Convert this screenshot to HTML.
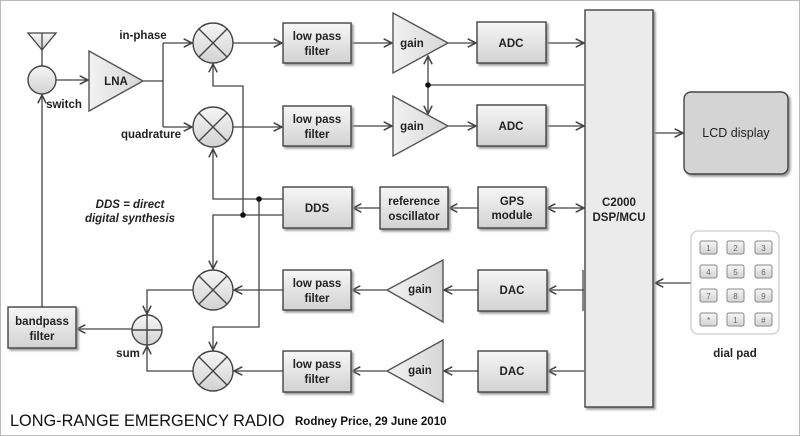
<!DOCTYPE html>
<html><head><meta charset="utf-8"><style>
html,body{margin:0;padding:0;background:#fff}
svg{display:block;font-family:"Liberation Sans",Arial,sans-serif}
</style></head><body>
<svg width="800" height="436" viewBox="0 0 800 436" xmlns="http://www.w3.org/2000/svg">
<defs>
<linearGradient id="g" x1="0" y1="0" x2="0" y2="1"><stop offset="0" stop-color="#f6f6f6"/><stop offset="1" stop-color="#d2d2d2"/></linearGradient>
<linearGradient id="gh" x1="0" y1="0" x2="1" y2="0"><stop offset="0" stop-color="#f2f2f2"/><stop offset="1" stop-color="#d6d6d6"/></linearGradient>
<marker id="a" viewBox="0 0 10 10" refX="9" refY="5" markerWidth="8" markerHeight="8" orient="auto-start-reverse"><path d="M1,1 L9,5 L1,9" fill="none" stroke="#444" stroke-width="1.5"/></marker>
</defs>
<rect x="0.5" y="0.5" width="799" height="435" fill="#fff" stroke="#bbb"/>
<g fill="none" stroke="#444" stroke-width="1.3">
<path d="M28,33 L56,33 L42,50 Z" fill="url(#g)"/>
<line x1="42" y1="33" x2="42" y2="66"/>
<line x1="56" y1="80" x2="88" y2="80" marker-end="url(#a)"/>
<line x1="42" y1="307" x2="42" y2="95" marker-end="url(#a)"/>
<polyline points="143,81 163,81"/>
<polyline points="163,43 163,127"/>
<line x1="163" y1="43" x2="192" y2="43" marker-end="url(#a)"/>
<line x1="163" y1="127" x2="192" y2="127" marker-end="url(#a)"/>
<line x1="233" y1="43" x2="282" y2="43" marker-end="url(#a)"/>
<line x1="233" y1="127" x2="282" y2="127" marker-end="url(#a)"/>
<line x1="351" y1="43" x2="392" y2="43" marker-end="url(#a)"/>
<line x1="351" y1="126" x2="392" y2="126" marker-end="url(#a)"/>
<line x1="448" y1="43" x2="476" y2="43" marker-end="url(#a)"/>
<line x1="448" y1="126" x2="476" y2="126" marker-end="url(#a)"/>
<line x1="546" y1="43" x2="584" y2="43" marker-end="url(#a)"/>
<line x1="546" y1="126" x2="584" y2="126" marker-end="url(#a)"/>
<line x1="584" y1="85" x2="428" y2="85"/>
<line x1="428" y1="85" x2="428" y2="56" marker-end="url(#a)"/>
<line x1="428" y1="85" x2="428" y2="114" marker-end="url(#a)"/>
<polyline points="283,199 213,199 213,149" marker-end="url(#a)"/>
<polyline points="283,215 213,215 213,269" marker-end="url(#a)"/>
<polyline points="243,215 243,86 213,86 213,64" marker-end="url(#a)"/>
<polyline points="259,199 259,327 213,327 213,350" marker-end="url(#a)"/>
<line x1="380" y1="208" x2="353" y2="208" marker-end="url(#a)"/>
<line x1="478" y1="208" x2="449" y2="208" marker-end="url(#a)"/>
<line x1="547" y1="208" x2="584" y2="208" marker-start="url(#a)" marker-end="url(#a)"/>
<line x1="653" y1="133" x2="683" y2="133" marker-end="url(#a)"/>
<line x1="691" y1="283" x2="655" y2="283" marker-end="url(#a)"/>
<line x1="584" y1="290" x2="548" y2="290" marker-end="url(#a)"/>
<line x1="583" y1="270" x2="583" y2="311"/>
<line x1="584" y1="371" x2="548" y2="371" marker-end="url(#a)"/>
<line x1="478" y1="290" x2="444" y2="290" marker-end="url(#a)"/>
<line x1="478" y1="371" x2="444" y2="371" marker-end="url(#a)"/>
<line x1="387" y1="290" x2="352" y2="290" marker-end="url(#a)"/>
<line x1="387" y1="371" x2="352" y2="371" marker-end="url(#a)"/>
<line x1="283" y1="290" x2="234" y2="290" marker-end="url(#a)"/>
<line x1="283" y1="371" x2="234" y2="371" marker-end="url(#a)"/>
<polyline points="193,290 147,290 147,314" marker-end="url(#a)"/>
<polyline points="193,371 147,371 147,346" marker-end="url(#a)"/>
<line x1="132" y1="329" x2="77" y2="329" marker-end="url(#a)"/>
</g>
<g fill="#111"><circle cx="428" cy="85" r="2.8"/><circle cx="259" cy="199" r="2.8"/><circle cx="243" cy="215" r="2.8"/></g>
<g stroke="#444" stroke-width="1.4" fill="url(#g)">
<circle cx="42" cy="80" r="14"/>
<circle cx="213" cy="43" r="20"/><circle cx="213" cy="127" r="20"/>
<circle cx="213" cy="290" r="20"/><circle cx="213" cy="371" r="20"/>
<circle cx="147" cy="330" r="15"/>
</g>
<g stroke="#444" stroke-width="1.4">
<path d="M199,29 L227,57 M227,29 L199,57"/><path d="M199,113 L227,141 M227,113 L199,141"/>
<path d="M199,276 L227,304 M227,276 L199,304"/><path d="M199,357 L227,385 M227,357 L199,385"/>
<path d="M132,330 L162,330 M147,315 L147,345"/>
</g>
<g stroke="#555" stroke-width="1.4" fill="url(#gh)">
<path d="M89,51 L143,81 L89,111 Z"/>
<path d="M393,13 L448,43 L393,73 Z"/>
<path d="M393,96 L448,126 L393,156 Z"/>
<path d="M443,260 L387,290 L443,322 Z"/>
<path d="M443,340 L387,371 L443,402 Z"/>
</g>
<g stroke="#444" stroke-width="1.4" fill="url(#g)" style="filter:drop-shadow(2px 2px 1px #999)">
<rect x="283" y="23" width="68" height="40"/>
<rect x="283" y="106" width="68" height="40"/>
<rect x="477" y="22" width="69" height="41"/>
<rect x="477" y="105" width="69" height="41"/>
<rect x="283" y="187" width="69" height="41"/>
<rect x="380" y="187" width="68" height="42"/>
<rect x="478" y="187" width="68" height="41"/>
<rect x="478" y="270" width="69" height="41"/>
<rect x="478" y="351" width="69" height="41"/>
<rect x="283" y="270" width="68" height="40"/>
<rect x="283" y="351" width="68" height="41"/>
<rect x="8" y="307" width="68" height="41"/>
<rect x="585" y="10" width="68" height="397" fill="#ebebeb"/>
<rect x="684" y="92" width="104" height="82" rx="7" fill="#d4d4d4"/>
</g>
<rect x="691" y="231" width="88" height="103" rx="7" fill="#fff" stroke="#ccc" stroke-width="1.3"/>
<g stroke="#888" stroke-width="1" fill="url(#g)">
<rect x="700" y="241" width="17" height="13" rx="2"/><rect x="727" y="241" width="17" height="13" rx="2"/><rect x="755" y="241" width="17" height="13" rx="2"/>
<rect x="700" y="265" width="17" height="13" rx="2"/><rect x="727" y="265" width="17" height="13" rx="2"/><rect x="755" y="265" width="17" height="13" rx="2"/>
<rect x="700" y="289" width="17" height="13" rx="2"/><rect x="727" y="289" width="17" height="13" rx="2"/><rect x="755" y="289" width="17" height="13" rx="2"/>
<rect x="700" y="313" width="17" height="13" rx="2"/><rect x="727" y="313" width="17" height="13" rx="2"/><rect x="755" y="313" width="17" height="13" rx="2"/>
</g>
<g font-size="8" fill="#666" text-anchor="middle">
<text x="708.5" y="251">1</text><text x="735.5" y="251">2</text><text x="763.5" y="251">3</text>
<text x="708.5" y="275">4</text><text x="735.5" y="275">5</text><text x="763.5" y="275">6</text>
<text x="708.5" y="299">7</text><text x="735.5" y="299">8</text><text x="763.5" y="299">9</text>
<text x="708.5" y="323">*</text><text x="735.5" y="323">1</text><text x="763.5" y="323">#</text>
</g>
<g font-size="11.5" font-weight="bold" fill="#222" text-anchor="middle">
<text x="116" y="85">LNA</text>
<text x="317" y="40">low pass</text><text x="317" y="55">filter</text>
<text x="317" y="123">low pass</text><text x="317" y="138">filter</text>
<text x="317" y="287">low pass</text><text x="317" y="302">filter</text>
<text x="317" y="368">low pass</text><text x="317" y="383">filter</text>
<text x="412" y="47">gain</text><text x="412" y="130">gain</text>
<text x="420" y="293">gain</text><text x="420" y="374">gain</text>
<text x="511" y="47">ADC</text><text x="511" y="130">ADC</text>
<text x="317" y="212">DDS</text>
<text x="414" y="205">reference</text><text x="414" y="220">oscillator</text>
<text x="512" y="205">GPS</text><text x="512" y="219">module</text>
<text x="512" y="294">DAC</text><text x="512" y="375">DAC</text>
<text x="42" y="325">bandpass</text><text x="42" y="340">filter</text>
<text x="619" y="206">C2000</text><text x="619" y="221">DSP/MCU</text>
<text x="736" y="137" font-weight="normal" font-size="12.5">LCD display</text>
<text x="735" y="357">dial pad</text>
<text x="64" y="108">switch</text>
<text x="143" y="39">in-phase</text>
<text x="151" y="138">quadrature</text>
<text x="128" y="357">sum</text>
</g>
<g font-size="11.5" font-weight="bold" font-style="italic" fill="#222" text-anchor="middle">
<text x="130" y="208">DDS = direct</text><text x="130" y="222">digital synthesis</text>
</g>
<text x="10" y="426" font-size="16.3" fill="#111">LONG-RANGE EMERGENCY RADIO</text>
<text x="295" y="425" font-size="11.5" font-weight="bold" fill="#111">Rodney Price, 29 June 2010</text>
</svg>
</body></html>
